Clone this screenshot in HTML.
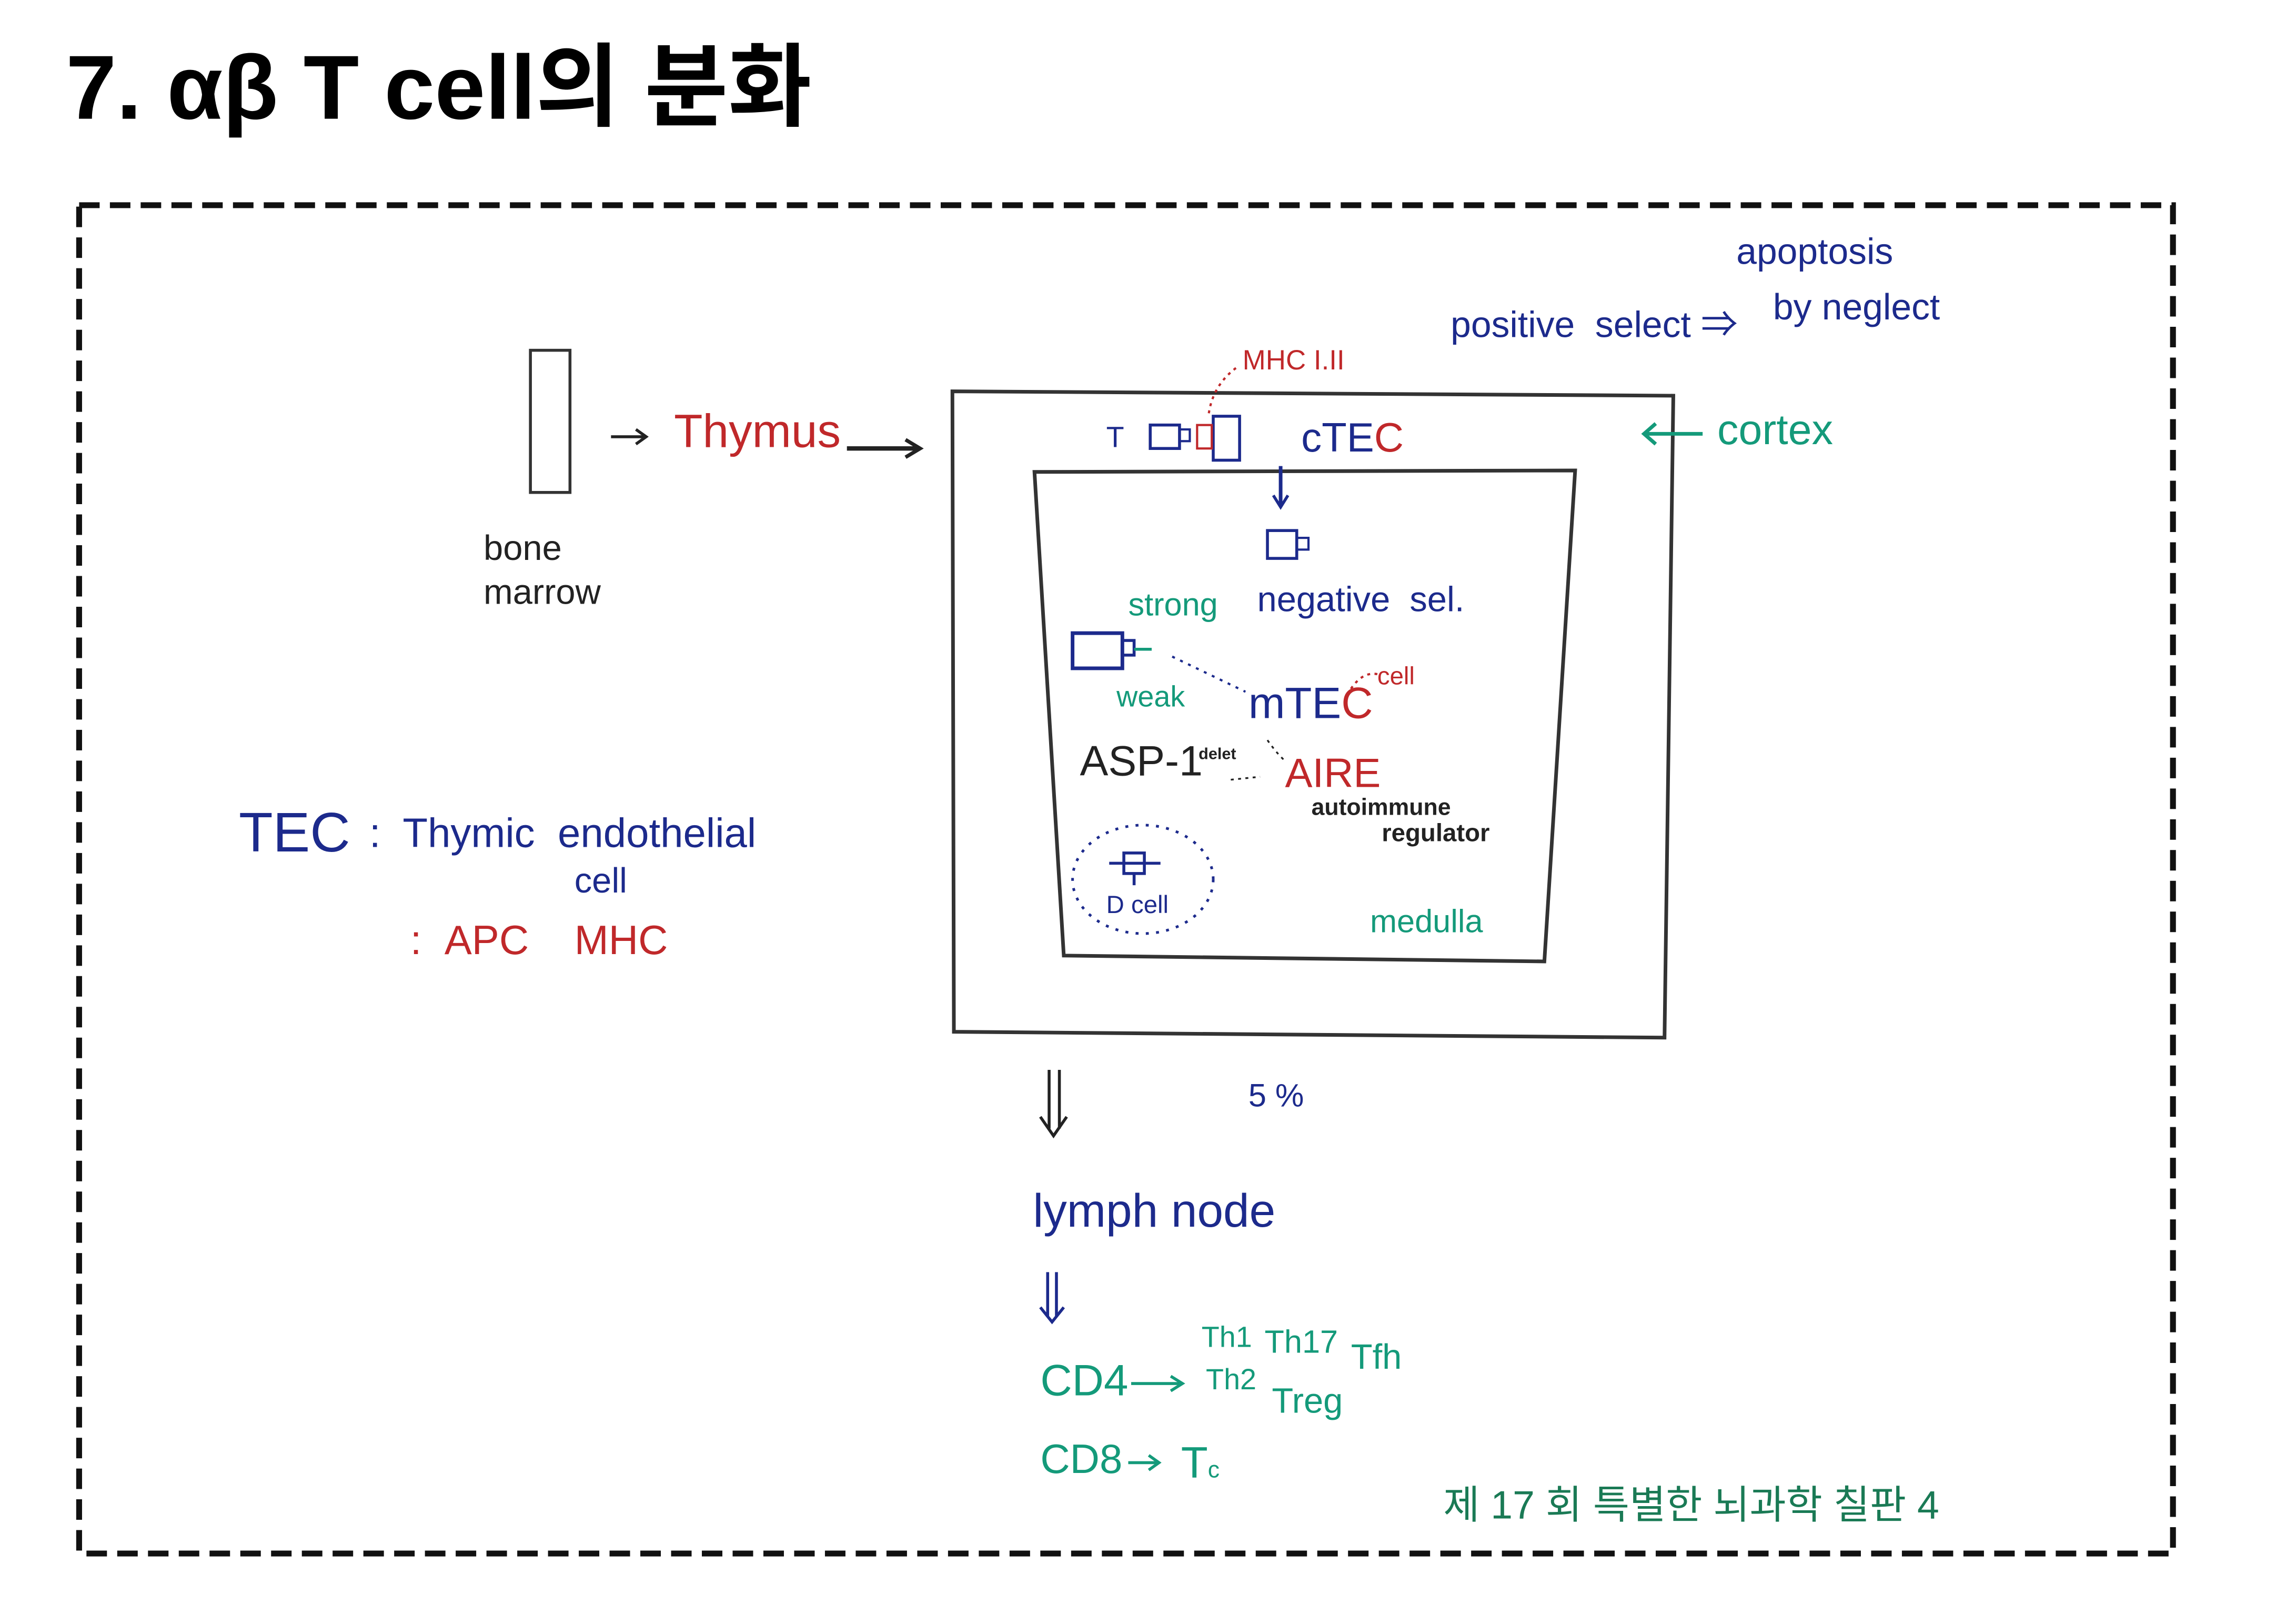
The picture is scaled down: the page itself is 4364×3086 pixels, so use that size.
<!DOCTYPE html>
<html><head><meta charset="utf-8">
<style>
html,body{margin:0;padding:0;background:#fff;}
#wrap{position:relative;width:4364px;height:3086px;overflow:hidden;background:#fff;}
#s{position:absolute;left:0;top:0;width:1568px;height:1108px;transform:scale(2.785,2.785);transform-origin:0 0;}
.t{position:absolute;white-space:nowrap;font-family:"Liberation Sans","Noto Sans CJK KR",sans-serif;line-height:1;}
.b{color:#1c2a8c}.r{color:#c0282a}.g{color:#149a7a}.k{color:#222}
</style></head><body>
<div id="wrap"><div id="s">
<div class="t" style="left:45px;top:30px;font-size:62px;font-weight:bold;color:#000;">7. αβ T cell의 분화</div>

<svg width="1568" height="1108" style="position:absolute;left:0;top:0" xmlns="http://www.w3.org/2000/svg">
<rect x="54" y="140" width="1429" height="920" fill="none" stroke="#111" stroke-width="4" stroke-dasharray="14,7"/>
<rect x="362" y="239" width="27" height="97" fill="none" stroke="#333" stroke-width="2"/>
<line x1="417" y1="298" x2="440" y2="298" stroke="#222" stroke-width="2"/><path d="M434,293 L441,298 L434,303" fill="none" stroke="#222" stroke-width="2"/>
<line x1="578" y1="306" x2="626" y2="306" stroke="#222" stroke-width="3"/><path d="M618,300 L628,306 L618,312" fill="none" stroke="#222" stroke-width="2.5"/>
<path d="M650,267 L1142,270 L1136,708 L651,704 Z" fill="none" stroke="#333" stroke-width="2.5"/>
<path d="M706,322 L1075,321 L1054,656 L726,652 Z" fill="none" stroke="#333" stroke-width="2.5"/>
<line x1="1122" y1="296" x2="1162" y2="296" stroke="#149a7a" stroke-width="2.5"/><path d="M1130,289 L1122,296 L1130,303" fill="none" stroke="#149a7a" stroke-width="2.5"/>
<rect x="785" y="290" width="20" height="16" fill="none" stroke="#1c2a8c" stroke-width="2"/>
<rect x="805" y="293" width="7" height="8" fill="none" stroke="#1c2a8c" stroke-width="1.5"/>
<rect x="828" y="284" width="18" height="30" fill="none" stroke="#1c2a8c" stroke-width="2"/>
<rect x="817" y="290" width="10" height="16" fill="none" stroke="#c0282a" stroke-width="1.5"/>
<path d="M825,282 Q828,262 845,250" fill="none" stroke="#c0282a" stroke-width="1.5" stroke-dasharray="2,3"/>
<line x1="874" y1="318" x2="874" y2="345" stroke="#1c2a8c" stroke-width="2.5"/><path d="M869,338 L874,346 L879,338" fill="none" stroke="#1c2a8c" stroke-width="2"/>
<rect x="865" y="362" width="20" height="19" fill="none" stroke="#1c2a8c" stroke-width="2"/>
<rect x="885" y="367" width="8" height="8" fill="none" stroke="#1c2a8c" stroke-width="1.5"/>
<rect x="732" y="432" width="34" height="24" fill="none" stroke="#1c2a8c" stroke-width="2.5"/>
<rect x="766" y="437" width="8" height="10" fill="none" stroke="#1c2a8c" stroke-width="2"/>
<line x1="774" y1="443" x2="786" y2="443" stroke="#149a7a" stroke-width="2"/>
<path d="M800,448 L850,472" fill="none" stroke="#1c2a8c" stroke-width="1.5" stroke-dasharray="2,4"/>
<path d="M922,470 Q930,458 940,460" fill="none" stroke="#c0282a" stroke-width="1.5" stroke-dasharray="2,3"/>
<path d="M865,505 Q872,515 878,520" fill="none" stroke="#222" stroke-width="1.2" stroke-dasharray="2,3"/>
<path d="M840,532 L860,530" fill="none" stroke="#222" stroke-width="1.2" stroke-dasharray="2,3"/>
<ellipse cx="780" cy="600" rx="48" ry="37" fill="none" stroke="#1c2a8c" stroke-width="1.8" stroke-dasharray="2,5"/>
<rect x="767" y="582" width="14" height="14" fill="none" stroke="#1c2a8c" stroke-width="2"/>
<line x1="757" y1="589" x2="792" y2="589" stroke="#1c2a8c" stroke-width="2"/>
<line x1="774" y1="596" x2="774" y2="604" stroke="#1c2a8c" stroke-width="2"/>
<path d="M716,730 L716,770 M723,730 L723,770 M710,762 L719,775 L728,762" fill="none" stroke="#222" stroke-width="2"/>
<path d="M715,868 L715,898 M721,868 L721,898 M710,892 L718,902 L726,892" fill="none" stroke="#1c2a8c" stroke-width="2"/>
<line x1="772" y1="944" x2="805" y2="944" stroke="#149a7a" stroke-width="2"/><path d="M799,939 L807,944 L799,949" fill="none" stroke="#149a7a" stroke-width="2"/>
<line x1="770" y1="998" x2="790" y2="998" stroke="#149a7a" stroke-width="2"/><path d="M784,993 L791,998 L784,1003" fill="none" stroke="#149a7a" stroke-width="2"/>
</svg>

<div class="t r" style="left:460px;top:278px;font-size:32px;">Thymus</div>
<div class="t k" style="left:330px;top:363px;font-size:24px;">bone</div>
<div class="t k" style="left:330px;top:393px;font-size:24px;">marrow</div>

<div class="t b" style="left:163px;top:550px;font-size:38px;">TEC</div>
<div class="t b" style="left:252px;top:555px;font-size:28px;">:&nbsp; Thymic &nbsp;endothelial</div>
<div class="t b" style="left:392px;top:590px;font-size:24px;">cell</div>
<div class="t r" style="left:280px;top:628px;font-size:28px;">: &nbsp;APC &nbsp;&nbsp;&nbsp;MHC</div>

<div class="t r" style="left:848px;top:237px;font-size:19px;">MHC I.II</div>
<div class="t b" style="left:755px;top:289px;font-size:20px;">T</div>
<div class="t b" style="left:888px;top:285px;font-size:28px;">cTE<span class="r">C</span></div>
<div class="t b" style="left:990px;top:210px;font-size:25px;">positive &nbsp;select ⇒</div>
<div class="t b" style="left:1185px;top:160px;font-size:25px;">apoptosis</div>
<div class="t b" style="left:1210px;top:198px;font-size:25px;">by neglect</div>
<div class="t g" style="left:1172px;top:280px;font-size:29px;">cortex</div>

<div class="t g" style="left:770px;top:402px;font-size:22px;">strong</div>
<div class="t b" style="left:858px;top:398px;font-size:24px;">negative &nbsp;sel.</div>
<div class="t g" style="left:762px;top:466px;font-size:20px;">weak</div>
<div class="t b" style="left:852px;top:466px;font-size:30px;">mTE<span class="r">C</span></div>
<div class="t r" style="left:940px;top:453px;font-size:17px;">cell</div>
<div class="t k" style="left:737px;top:506px;font-size:29px;">ASP-1</div>
<div class="t k" style="left:818px;top:510px;font-size:11px;font-weight:bold;">delet</div>
<div class="t r" style="left:877px;top:514px;font-size:28px;">AIRE</div>
<div class="t k" style="left:895px;top:544px;font-size:16px;font-weight:bold;">autoimmune</div>
<div class="t k" style="left:943px;top:560px;font-size:17px;font-weight:bold;">regulator</div>
<div class="t b" style="left:755px;top:609px;font-size:17px;">D cell</div>
<div class="t g" style="left:935px;top:618px;font-size:22px;">medulla</div>

<div class="t b" style="left:852px;top:737px;font-size:22px;">5 %</div>
<div class="t b" style="left:705px;top:810px;font-size:32px;">lymph node</div>
<div class="t g" style="left:710px;top:928px;font-size:30px;">CD4</div>
<div class="t g" style="left:820px;top:903px;font-size:20px;">Th1</div>
<div class="t g" style="left:863px;top:905px;font-size:22px;">Th17</div>
<div class="t g" style="left:922px;top:915px;font-size:24px;">Tfh</div>
<div class="t g" style="left:823px;top:932px;font-size:20px;">Th2</div>
<div class="t g" style="left:868px;top:945px;font-size:24px;">Treg</div>
<div class="t g" style="left:710px;top:982px;font-size:28px;">CD8</div>
<div class="t g" style="left:806px;top:984px;font-size:30px;">T<span style="font-size:16px">c</span></div>

<div class="t" style="left:985px;top:1014px;font-size:27px;color:#1a7a55;">제 17 회 특별한 뇌과학 칠판 4</div>
</div></div>
</body></html>
